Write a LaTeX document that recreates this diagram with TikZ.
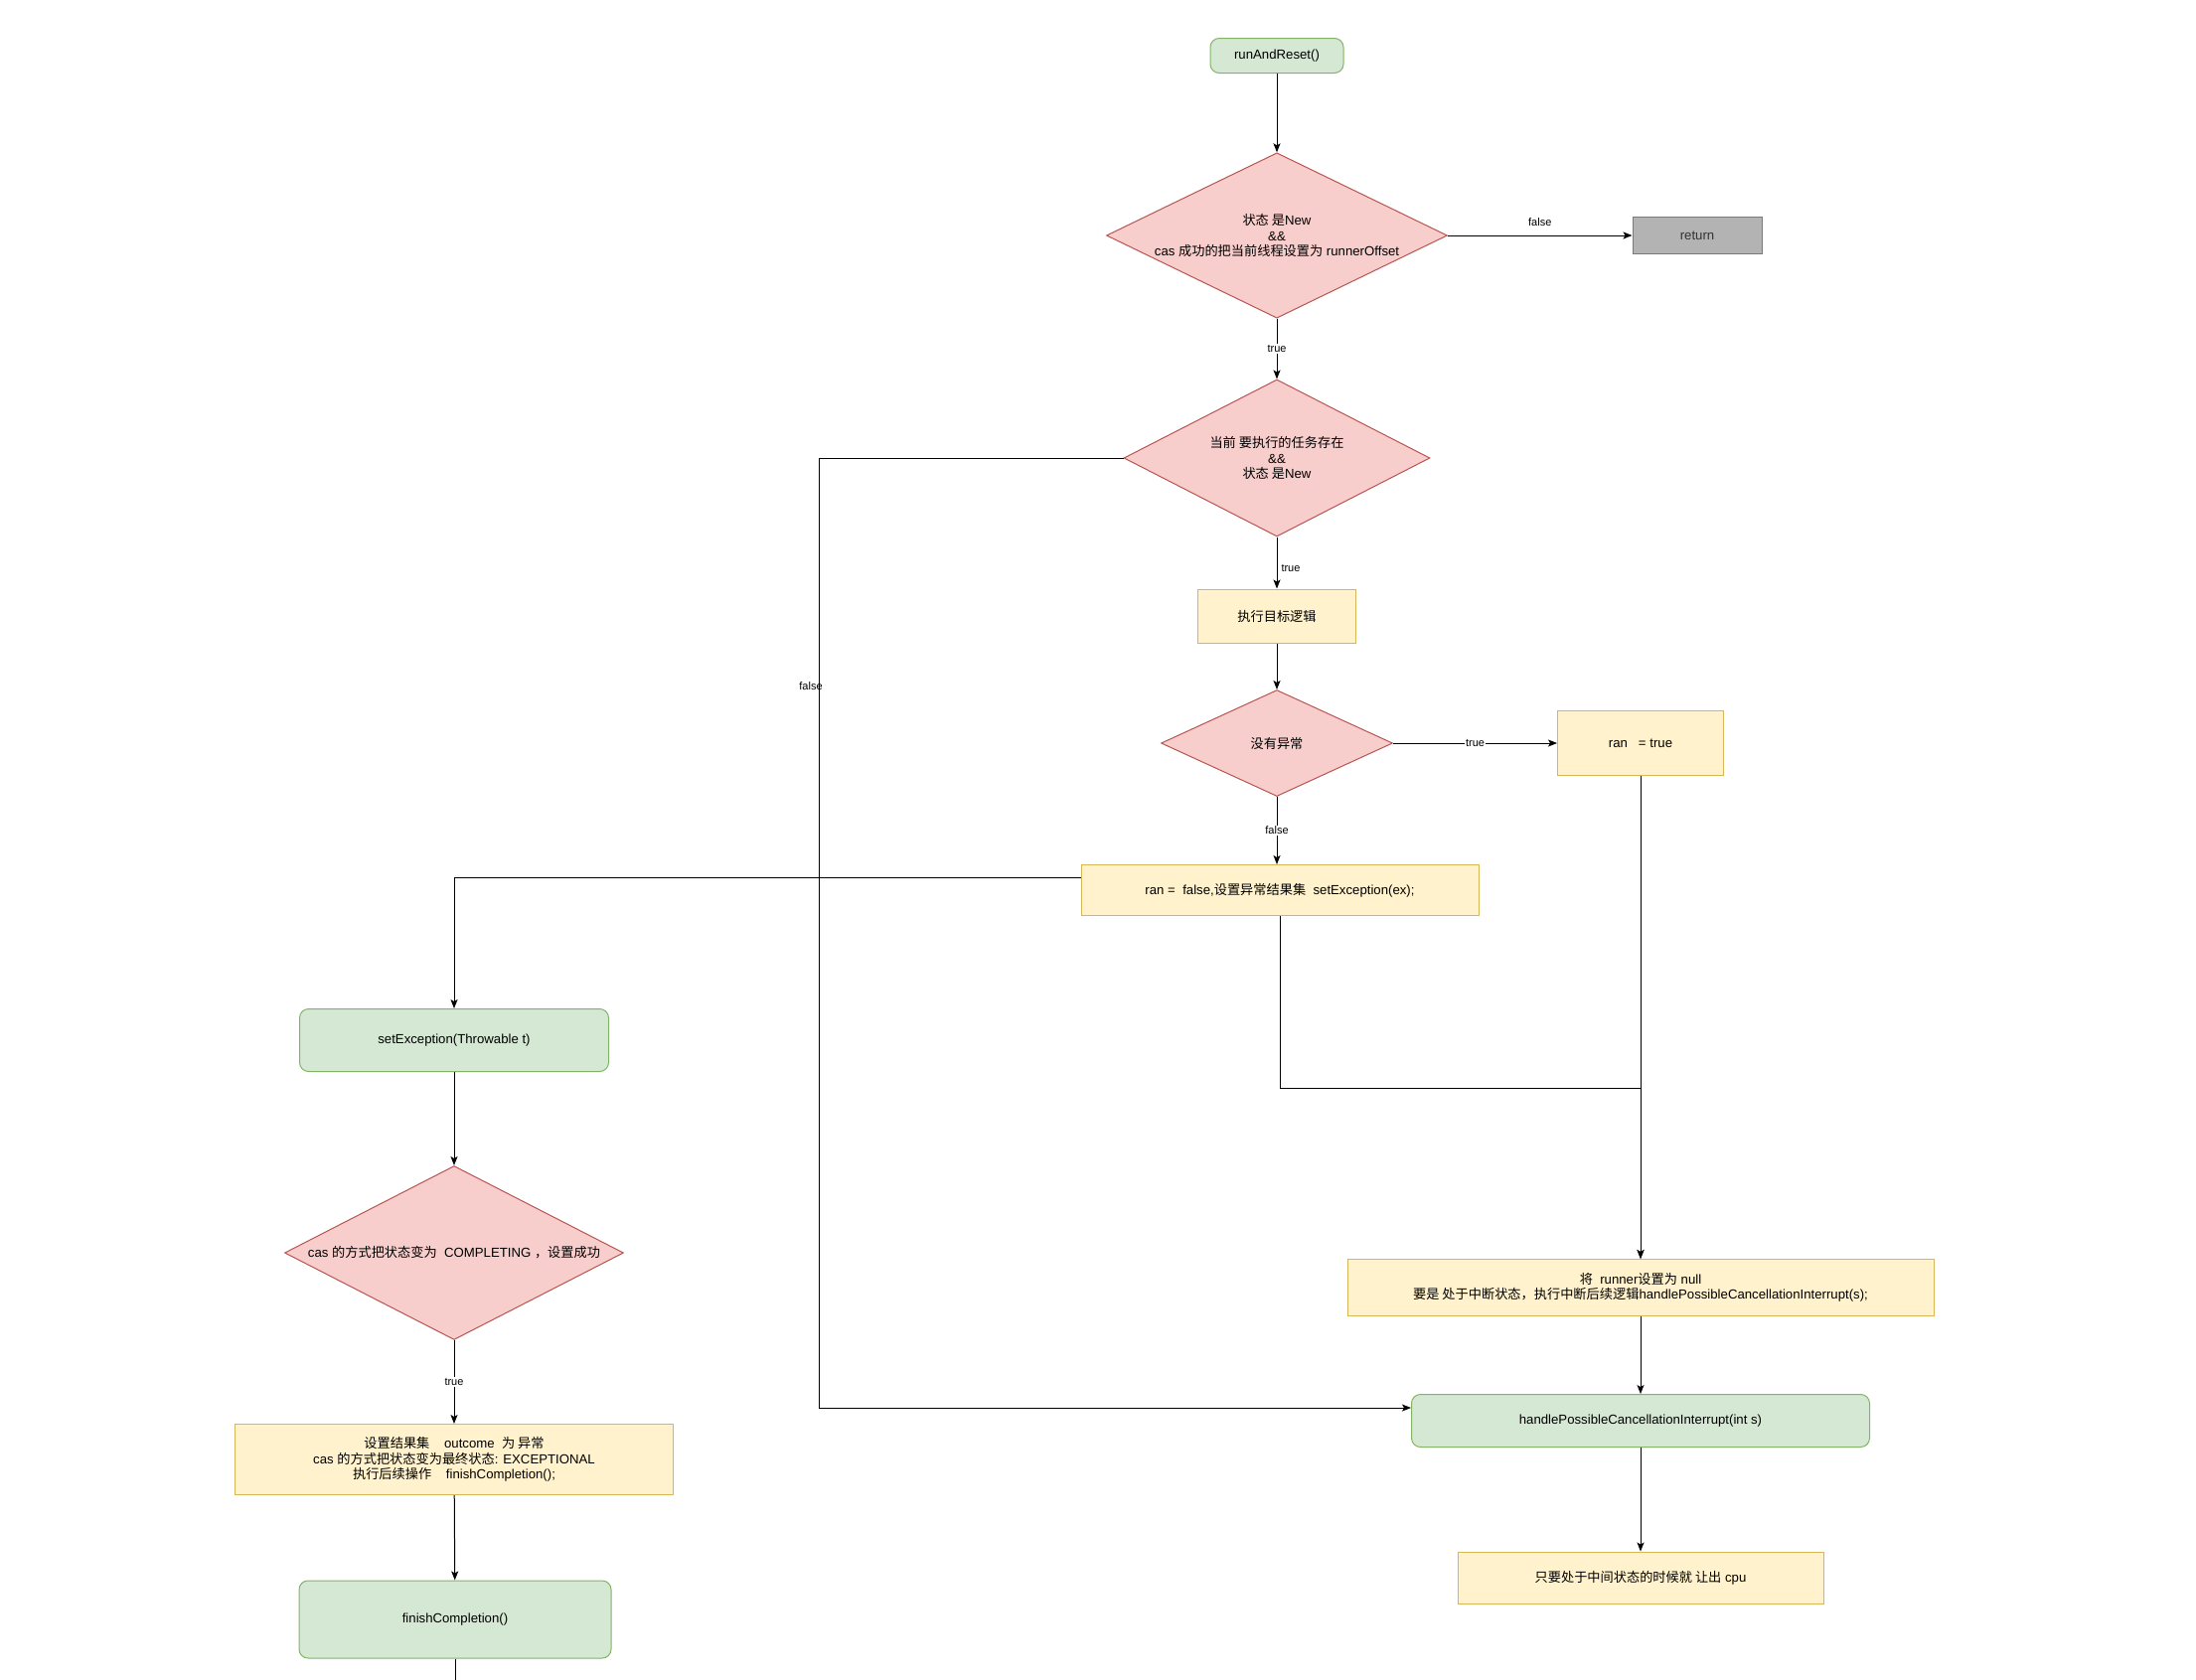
\documentclass[tikz,border=0pt]{standalone}
\usepackage{fontspec}
\setmainfont{Liberation Sans}
\newfontfamily\cjk{Noto Sans CJK SC}
\newcommand{\zh}[1]{{\cjk #1}}
\usetikzlibrary{shapes.geometric,arrows.meta}
\definecolor{gfill}{HTML}{D5E8D4}\definecolor{gline}{HTML}{82B366}
\definecolor{rfill}{HTML}{F8CECC}\definecolor{rline}{HTML}{B85450}
\definecolor{yfill}{HTML}{FFF2CC}\definecolor{yline}{HTML}{D6B656}
\definecolor{sfill}{HTML}{B3B3B3}\definecolor{sline}{HTML}{7A7A7A}\definecolor{stext}{HTML}{333333}
\begin{document}
\begin{tikzpicture}[x=1pt,y=-1pt,line width=1pt,
  font=\fontsize{13.2}{15.5}\selectfont,
  gbox/.style={draw=gline,fill=gfill,rounded corners=9pt,inner sep=0pt,align=center},
  ybox/.style={draw=yline,fill=yfill,inner sep=0pt,align=center},
  sbox/.style={draw=sline,fill=sfill,text=stext,inner sep=0pt,align=center},
  dec/.style={diamond,aspect=2,draw=rline,fill=rfill,inner sep=0pt,align=center},
  arr/.style={-{Stealth[length=9pt,width=7pt,inset=2pt]}},
  lbl/.style={font=\fontsize{11}{13}\selectfont,inner sep=1pt},
  lblw/.style={lbl,fill=white}]
\useasboundingbox (0,0) rectangle (2210,1690);
% main column
\node[gbox,minimum width=134pt,minimum height=35pt] (start) at (1285,56) {runAndReset()};
\node[dec,minimum width=343pt,minimum height=166pt] (d1) at (1285,237) {\zh{状态 是}New\\\&\&\\cas \zh{成功的把当前线程设置为} runnerOffset};
\node[sbox,minimum width=130pt,minimum height=37pt] (ret) at (1708,237) {return};
\node[dec,minimum width=308pt,minimum height=158pt] (d2) at (1285,461) {\zh{当前 要执行的任务存在}\\\&\&\\\zh{状态 是}New};
\node[ybox,minimum width=159pt,minimum height=54pt] (work) at (1285,620) {\zh{执行目标逻辑}};
\node[dec,minimum width=233pt,minimum height=107pt] (d3) at (1285,748) {\zh{没有异常}};
\node[ybox,minimum width=167pt,minimum height=65pt] (rtrue) at (1651,748) {ran\ \ \ = true};
\node[ybox,minimum width=400pt,minimum height=51pt] (rfalse) at (1288,896) {ran =\ \ false,\zh{设置异常结果集}\ \ setException(ex);};
% exception branch
\node[gbox,minimum width=311pt,minimum height=63pt] (setex) at (457,1047) {setException(Throwable t)};
\node[dec,minimum width=341pt,minimum height=175pt] (d4) at (457,1261) {cas \zh{的方式把状态变为}\ \ COMPLETING \zh{，设置成功}};
\node[ybox,minimum width=441pt,minimum height=71pt] (res) at (457,1469) {\zh{设置结果集}\ \ \ \ outcome\ \ \zh{为 异常}\\cas \zh{的方式把状态变为最终状态}: EXCEPTIONAL\\\zh{执行后续操作}\ \ \ \ finishCompletion();};
\node[gbox,minimum width=314pt,minimum height=78pt] (fin) at (458,1630) {finishCompletion()};
% finally
\node[ybox,minimum width=590pt,minimum height=57pt] (runner) at (1651,1296) {\zh{将}\ \ runner\zh{设置为} null\\\zh{要是 处于中断状态，执行中断后续逻辑}handlePossibleCancellationInterrupt(s);};
\node[gbox,minimum width=461pt,minimum height=53pt] (handle) at (1651,1430) {handlePossibleCancellationInterrupt(int s)};
\node[ybox,minimum width=368pt,minimum height=52pt] (cpu) at (1651,1588) {\zh{只要处于中间状态的时候就 让出} cpu};
\coordinate (fl) at (824,1417);
\coordinate (join) at (1651,1095);
\coordinate (off) at (458,1720);
% edges
\draw[arr] (start) -- (d1);
\draw[arr] (d1) -- node[lbl,above=8pt]{false} (ret);
\draw[arr] (d1) -- node[lblw]{true} (d2);
\draw[arr] (d2.west) -| node[lbl,pos=0.62,xshift=-8pt]{false} (fl) -- (fl -| handle.west);
\draw[arr] (d2) -- node[lbl,right=3pt,pos=0.6]{true} (work);
\draw[arr] (work) -- (d3);
\draw[arr] (d3) -- node[lblw]{true} (rtrue);
\draw[arr] (d3.south) -- node[lblw]{false} (d3.south |- rfalse.north);
\draw[arr] ([yshift=12.5pt]rfalse.west) -| (setex.north);
\draw[arr] (setex) -- (d4);
\draw[arr] (d4) -- node[lblw]{true} (res);
\draw[arr] (res) -- (fin);
\draw (fin) -- (off);
\draw[arr] (rtrue) -- (runner);
\draw[arr] (rfalse.south) |- (join) -- (runner.north);
\draw[arr] (runner) -- (handle);
\draw[arr] (handle) -- (cpu);
\end{tikzpicture}
\end{document}
